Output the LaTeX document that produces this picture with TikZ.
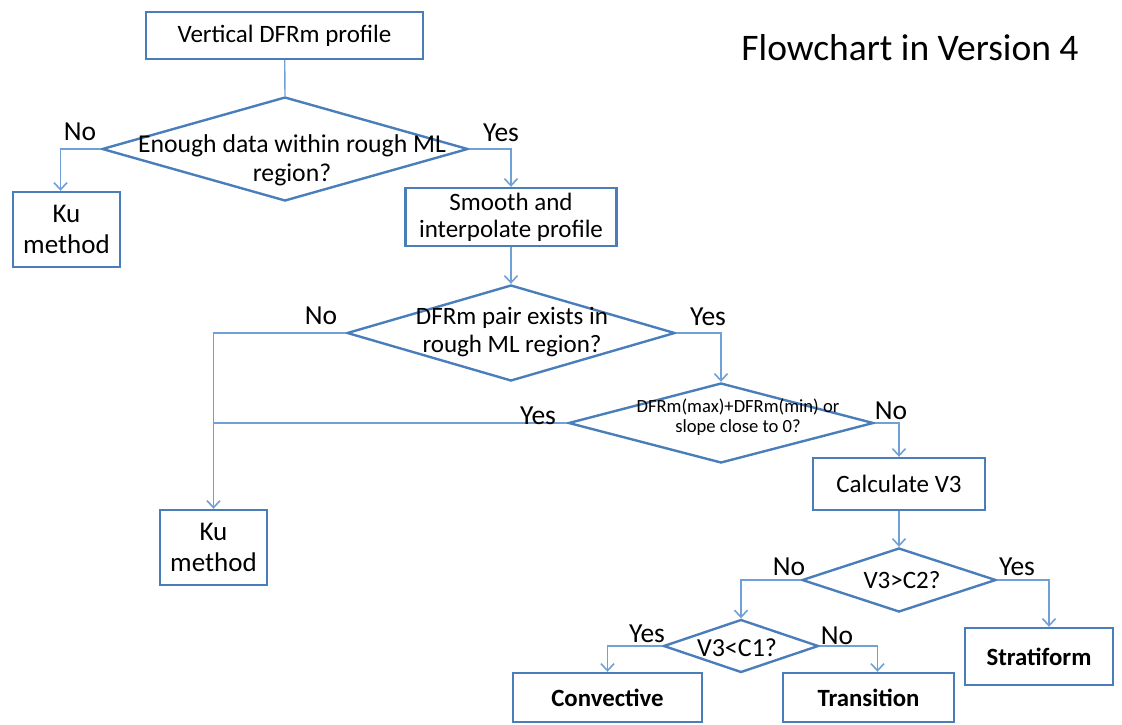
\documentclass[tikz,border=0pt]{standalone}
\usepackage{fontspec}
\setmainfont{Carlito}
\usetikzlibrary{arrows.meta,shapes.geometric}
\definecolor{boxblue}{RGB}{74,126,187}
\definecolor{linkblue}{RGB}{112,160,214}
\tikzset{
  pbox/.style={rectangle, draw=boxblue, line width=2.4pt, align=center, inner sep=0pt, font=\fontsize{25}{27}\selectfont},
  kbox/.style={pbox, font=\fontsize{27}{31}\selectfont},
  rbox/.style={pbox, font=\fontsize{24.8}{27}\selectfont\bfseries},
  dec/.style={diamond, draw=boxblue, line width=2.4pt, inner sep=0pt},
  dtxt/.style={align=center, inner sep=0pt, font=\fontsize{25}{28}\selectfont},
  ans/.style={inner sep=0pt, font=\fontsize{27.5}{30}\selectfont},
  link/.style={draw=linkblue, line width=1.4pt},
  flow/.style={link, -{Straight Barb[length=7pt, width=13pt, line width=1.6pt]}},
}
\begin{document}
\begin{tikzpicture}[x=1pt, y=-1pt]
  \useasboundingbox (0,0) rectangle (1122,724);

  %% --- start and title ---
  \node[pbox, minimum width=277pt, minimum height=47pt] (prof) at (284.5,35.5) {Vertical DFRm profile};
  \node[inner sep=0pt, font=\fontsize{37.5}{40}\selectfont] (title) at (910,48) {Flowchart in Version 4};

  %% --- first test ---
  \node[dec, minimum width=366pt, minimum height=104pt] (enough) at (285,149) {};
  \node[dtxt, font=\fontsize{25.7}{29}\selectfont] (enought) at (292,160) {Enough data within rough ML\\region?};
  \node[kbox, minimum width=107pt, minimum height=75pt] (kua) at (66.5,229.5) {Ku\\method};
  \node[pbox, minimum width=211pt, minimum height=58pt] (smooth) at (511,217) {Smooth and\\interpolate profile};

  %% --- pair test ---
  \node[dec, minimum width=328pt, minimum height=96pt] (pair) at (511,333) {};
  \node[dtxt] (pairt) at (512,332) {DFRm pair exists in\\rough ML region?};
  \node[kbox, minimum width=107pt, minimum height=75pt] (kub) at (213.5,547.5) {Ku\\method};

  %% --- slope test ---
  \node[dec, minimum width=305pt, minimum height=80pt] (slope) at (721,423) {};
  \node[dtxt, font=\fontsize{18.6}{20}\selectfont] (slopet) at (738,417) {DFRm(max)+DFRm(min) or\\slope close to 0?};
  \node[pbox, minimum width=172pt, minimum height=52pt] (calc) at (899,484) {Calculate V3};

  %% --- V3 tests ---
  \node[dec, minimum width=194pt, minimum height=64pt] (vtwo) at (899,580) {};
  \node[dtxt] (vtwot) at (902,580) {V3>C2?};
  \node[dec, minimum width=155pt, minimum height=53pt] (vone) at (741,646) {};
  \node[dtxt, font=\fontsize{26}{28}\selectfont] (vonet) at (737,648) {V3<C1?};

  % classes
  \node[rbox, minimum width=189pt, minimum height=49pt] (conv) at (607.5,697.5) {Convective};
  \node[rbox, minimum width=171pt, minimum height=49pt] (trans) at (868.5,697.5) {Transition};
  \node[rbox, minimum width=148pt, minimum height=57pt] (strat) at (1039,656.5) {Stratiform};

  %% --- connectors ---
  \draw[link] (prof) -- (enough.north);
  \draw[flow] (enough.west) -| ([xshift=-6pt]kua.north);
  \draw[flow] (enough.east) -| (smooth.north);
  \draw[flow] (smooth) -- (pair.north);
  \draw[flow] (pair.west) -| (kub.north);
  \draw[flow] (pair.east) -| (slope.north);
  \draw[link] (slope.west) -- (slope.west -| kub.north);
  \draw[flow] (slope.east) -| (calc.north);
  \draw[flow] (calc) -- (vtwo.north);
  \draw[flow] (vtwo.west) -| (vone.north);
  \draw[flow] (vtwo.east) -| ([xshift=10pt]strat.north);
  \draw[flow] (vone.west) -| (conv.north);
  \draw[flow] (vone.east) -| ([xshift=9pt]trans.north);

  % answers
  \node[ans] (noa) at (80,132) {No};
  \node[ans] (yesa) at (501,133) {Yes};
  \node[ans] (nob) at (321,316) {No};
  \node[ans] (yesb) at (708,317) {Yes};
  \node[ans] (yesc) at (538,416) {Yes};
  \node[ans] (noc) at (891,411) {No};
  \node[ans] (nod) at (789,567) {No};
  \node[ans] (yesd) at (1017,567) {Yes};
  \node[ans] (yese) at (647,634) {Yes};
  \node[ans] (noe) at (837,636) {No};
\end{tikzpicture}
\end{document}
